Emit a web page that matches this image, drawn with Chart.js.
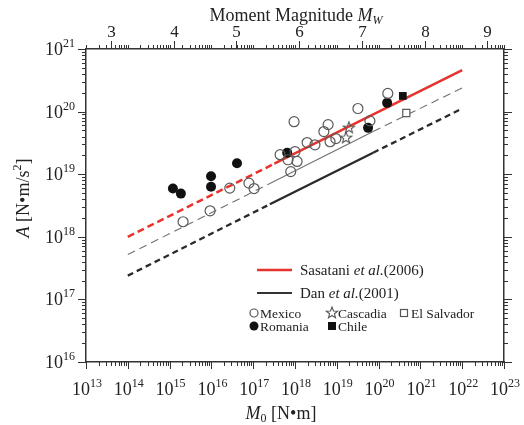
<!DOCTYPE html>
<html>
<head>
<meta charset="utf-8">
<script src="https://cdn.jsdelivr.net/npm/chart.js"></script>
<style>
  html, body { margin: 0; padding: 0; background: #fff; }
  canvas { display: block; }
</style>
</head>
<body>
<canvas id="chart" width="524" height="425"></canvas>
<script>
// ---------------------------
// data  (M0 [N·m], A [N·m/s²])
// ---------------------------
const mexicoM0 = [2.1e15, 9.3e15, 2.75e16, 7.9e16, 1.05e17, 4.4e17, 6.8e17, 7.9e17, 9.5e17, 1.0e18,
                  1.12e18, 1.95e18, 3.0e18, 4.9e18, 6.2e18, 6.9e18, 9.5e18, 3.2e19, 6.2e19, 1.66e20];
const mexicoA  = [1.74e18, 2.6e18, 6.0e18, 7.2e18, 5.9e18, 2.05e19, 1.7e19, 1.1e19, 6.9e19, 2.3e19,
                  1.6e19, 3.2e19, 2.95e19, 4.8e19, 6.2e19, 3.3e19, 3.7e19, 1.12e20, 7.1e19, 1.95e20];

const romaniaM0 = [1.2e15, 1.86e15, 9.8e15, 9.8e15, 4.1e16, 6.5e17, 5.6e19, 1.6e20];
const romaniaA  = [5.9e18, 4.9e18, 9.3e18, 6.3e18, 1.5e19, 2.2e19, 5.5e19, 1.38e20];

const cascadiaM0 = [1.95e19, 1.66e19];
const cascadiaA  = [5.5e19, 3.8e19];

const chileM0 = [3.8e20];
const chileA  = [1.78e20];

const salvadorM0 = [4.6e20];
const salvadorA  = [9.5e19];

// relations: dashed outside the middle range, solid inside
const sasataniM0 = [1e14, 3.2e17, 1e22];
const sasataniA  = [1.0e18, 1.47e19, 4.6e20];
const grayM0 = [1e14, 2.5e17, 7.4e19, 1e22];
const grayA  = [5.2e17, 7.1e18, 4.8e19, 2.4e20];
const danM0 = [1e14, 2.5e17, 7.4e19, 1e22];
const danA  = [2.4e17, 3.3e18, 2.2e19, 1.12e20];

// axis ticks
const m0Exps = [13, 14, 15, 16, 17, 18, 19, 20, 21, 22, 23];
const aExps = [16, 17, 18, 19, 20, 21];
const mwTicks = [3, 4, 5, 6, 7, 8, 9];

// ---------------------------
// helpers
// ---------------------------
const SERIF = '"Liberation Serif", "Times New Roman", serif';
const F = (size, style) => `${style || ''} ${size}px ${SERIF}`;
const INK = '#222';
const RED = '#e8322c';

function pts(xs, ys) {
  return xs.map((x, i) => ({ x, y: ys[i] }));
}

function starImage(r, color, lw) {
  const c = document.createElement('canvas');
  const s = Math.ceil(r * 2 + 4);
  c.width = c.height = s;
  const g = c.getContext('2d');
  g.strokeStyle = color;
  g.lineWidth = lw;
  g.beginPath();
  for (let i = 0; i < 10; i++) {
    const ang = -Math.PI / 2 + i * Math.PI / 5;
    const rr = i % 2 ? r * 0.42 : r;
    g.lineTo(s / 2 + rr * Math.cos(ang), s / 2 + rr * Math.sin(ang));
  }
  g.closePath();
  g.stroke();
  return c;
}
const STAR = starImage(6, '#555', 1.1);

// text made of runs (font / baseline shift)
function runs(ctx, parts, x, y, align) {
  let w = 0;
  parts.forEach(p => { ctx.font = p.f; p.w = ctx.measureText(p.t).width; w += p.w; });
  let cx = align === 'center' ? x - w / 2 : align === 'right' ? x - w : x;
  parts.forEach(p => { ctx.font = p.f; ctx.fillText(p.t, cx, y + (p.dy || 0)); cx += p.w; });
}

function pow10(e) {
  return [{ t: '10', f: F(18) }, { t: String(e), f: F(12), dy: -8 }];
}

function seg(ctx, x1, y1, x2, y2) {
  ctx.beginPath(); ctx.moveTo(x1, y1); ctx.lineTo(x2, y2); ctx.stroke();
}

// ---------------------------
// ticks, labels, titles, legend
// ---------------------------
const decor = {
  id: 'decor',
  afterDraw(chart) {
    const { ctx, chartArea: a, scales } = chart;
    const sx = scales.x, sy = scales.y, mw = scales.mw;
    ctx.save();
    ctx.strokeStyle = '#333';
    ctx.lineWidth = 1;
    ctx.fillStyle = INK;
    ctx.textAlign = 'left';
    ctx.textBaseline = 'alphabetic';

    // log ticks on bottom and top
    m0Exps.forEach(e => {
      for (let m = 1; m <= 9; m++) {
        if (e === m0Exps[m0Exps.length - 1] && m > 1) break;
        const px = Math.round(sx.getPixelForValue(m * Math.pow(10, e))) + 0.5;
        seg(ctx, px, a.bottom, px, a.bottom + (m === 1 ? 7 : 4));
        seg(ctx, px, a.top, px, a.top - 4);
      }
      runs(ctx, pow10(e), sx.getPixelForValue(Math.pow(10, e)) + 1, 395, 'center');
    });

    // log ticks left and right
    aExps.forEach(e => {
      for (let m = 1; m <= 9; m++) {
        if (e === aExps[aExps.length - 1] && m > 1) break;
        const py = Math.round(sy.getPixelForValue(m * Math.pow(10, e))) + 0.5;
        const len = m === 1 ? 8 : 4;
        seg(ctx, a.left - len, py, a.left, py);
        seg(ctx, a.right, py, a.right + len, py);
      }
      runs(ctx, pow10(e), 75, sy.getPixelForValue(Math.pow(10, e)) + 6, 'right');
    });

    // moment magnitude ticks on top
    mwTicks.forEach(v => {
      const px = Math.round(mw.getPixelForValue(v)) + 0.5;
      seg(ctx, px, a.top, px, a.top - 8);
      ctx.font = F(17);
      ctx.textAlign = 'center';
      ctx.fillText(String(v), px, 37);
      ctx.textAlign = 'left';
    });

    // axis titles
    runs(ctx, [{ t: 'Moment Magnitude ', f: F(18) }, { t: 'M', f: F(18, 'italic') },
               { t: 'W', f: F(12, 'italic'), dy: 3 }], 296, 21, 'center');
    runs(ctx, [{ t: 'M', f: F(18, 'italic') }, { t: '0', f: F(12), dy: 3 },
               { t: ' [N\u2022m]', f: F(18) }], 281, 419, 'center');
    ctx.save();
    ctx.translate(29, 198);
    ctx.rotate(-Math.PI / 2);
    runs(ctx, [{ t: 'A', f: F(18, 'italic') }, { t: ' [N\u2022m/s', f: F(18) },
               { t: '2', f: F(12), dy: -8 }, { t: ']', f: F(18) }], 0, 0, 'center');
    ctx.restore();

    // legend
    ctx.lineWidth = 2.5;
    ctx.strokeStyle = RED;
    seg(ctx, 257, 270, 292, 270);
    ctx.strokeStyle = '#333';
    ctx.lineWidth = 2;
    seg(ctx, 257, 293, 292, 293);
    runs(ctx, [{ t: 'Sasatani ', f: F(15) }, { t: 'et al.', f: F(15, 'italic') },
               { t: '(2006)', f: F(15) }], 300, 275, 'left');
    runs(ctx, [{ t: 'Dan ', f: F(15) }, { t: 'et al.', f: F(15, 'italic') },
               { t: '(2001)', f: F(15) }], 300, 298, 'left');

    ctx.lineWidth = 1.2;
    ctx.strokeStyle = '#555';
    ctx.beginPath(); ctx.arc(254, 313, 4, 0, Math.PI * 2); ctx.stroke();
    ctx.drawImage(STAR, 332 - STAR.width / 2, 313 - STAR.height / 2);
    ctx.strokeRect(400.5, 309.5, 7, 7);
    ctx.fillStyle = '#111';
    ctx.beginPath(); ctx.arc(254, 326, 4.5, 0, Math.PI * 2); ctx.fill();
    ctx.fillRect(328, 322, 8, 8);
    ctx.fillStyle = INK;
    ctx.font = F(13.5);
    ctx.fillText('Mexico', 260, 318);
    ctx.fillText('Cascadia', 338, 318);
    ctx.fillText('El Salvador', 411, 318);
    ctx.fillText('Romania', 260, 331);
    ctx.fillText('Chile', 338, 331);
    ctx.restore();
  }
};

// ---------------------------
// chart
// ---------------------------
const dashOut = (dash) => ({
  borderDash: c => (c.p0DataIndex === 1 ? [] : dash)
});

const hiddenAxis = (extra) => Object.assign({
  ticks: { display: false },
  grid: { display: false, drawTicks: false },
  border: { display: true, color: '#333', width: 1.5 }
}, extra);

new Chart(document.getElementById('chart'), {
  type: 'scatter',
  data: {
    datasets: [
      { label: 'Mexico', data: pts(mexicoM0, mexicoA), order: 0,
        pointStyle: 'circle', pointRadius: 5, borderWidth: 1.2,
        borderColor: '#5a5a5a', backgroundColor: 'rgba(0,0,0,0)' },
      { label: 'Romania', data: pts(romaniaM0, romaniaA), order: 0,
        pointStyle: 'circle', pointRadius: 5, borderWidth: 0,
        borderColor: '#111', backgroundColor: '#111' },
      { label: 'Cascadia', data: pts(cascadiaM0, cascadiaA), order: 0,
        pointStyle: STAR, pointRadius: 6 },
      { label: 'Chile', data: pts(chileM0, chileA), order: 0,
        pointStyle: 'rect', pointRadius: 5.5, borderWidth: 0,
        borderColor: '#111', backgroundColor: '#111' },
      { label: 'El Salvador', data: pts(salvadorM0, salvadorA), order: 0,
        pointStyle: 'rect', pointRadius: 5, borderWidth: 1.2,
        borderColor: '#5a5a5a', backgroundColor: '#fff' },
      { type: 'line', label: 'Sasatani', data: pts(sasataniM0, sasataniA), order: 1,
        borderColor: RED, borderWidth: 2.5, pointRadius: 0, segment: dashOut([7, 4]) },
      { type: 'line', label: 'gray', data: pts(grayM0, grayA), order: 2,
        borderColor: '#707070', borderWidth: 1.1, pointRadius: 0, segment: dashOut([8, 5]) },
      { type: 'line', label: 'Dan', data: pts(danM0, danA), order: 3,
        borderColor: '#2a2a2a', borderWidth: 2.3, pointRadius: 0, segment: dashOut([6, 4]) }
    ]
  },
  options: {
    responsive: false,
    animation: false,
    layout: { padding: { left: 86, right: 20, top: 49, bottom: 63 } },
    plugins: { legend: { display: false }, tooltip: { enabled: false } },
    scales: {
      x: hiddenAxis({ type: 'logarithmic', position: 'bottom', min: 1e13, max: 1e23 }),
      y: hiddenAxis({ type: 'logarithmic', position: 'left', min: 1e16, max: 1e21 }),
      mw: hiddenAxis({ type: 'linear', position: 'top', min: (13 - 9.1) / 1.5, max: (23 - 9.1) / 1.5 }),
      y2: hiddenAxis({ type: 'logarithmic', position: 'right', min: 1e16, max: 1e21 })
    }
  },
  plugins: [decor]
});
</script>
</body>
</html>
